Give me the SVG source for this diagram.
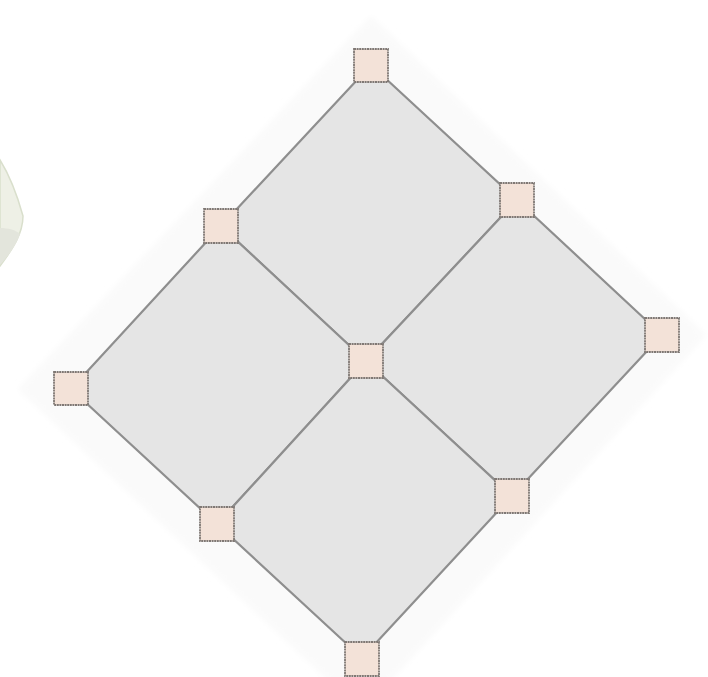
<svg xmlns="http://www.w3.org/2000/svg" width="708" height="677" viewBox="0 0 708 677">
  <defs>
    <style>
      .halo { fill: #fafafa; stroke: none; }
      .tile { fill: #e5e5e5; stroke: #8e8e8e; stroke-width: 2.2; stroke-linejoin: round; }
      .pt { fill: #f3e2d8; stroke: #7f7874; stroke-width: 1.8; stroke-dasharray: 2 0.6; }
      .blob { fill: #eef0e6; stroke: #d9dfcc; stroke-width: 1.5; }
    </style>
    <filter id="soft" x="-10%" y="-10%" width="120%" height="120%">
      <feGaussianBlur stdDeviation="3"/>
    </filter>
  </defs>
  <rect width="708" height="677" fill="#ffffff"/>

  <g id="blob">
    <path class="blob" d="M0,160 C10,176 18,198 23,216 C23,234 12,250 0,266 Z"/>
    <path d="M0,228 C8,228 16,230 20,234 C16,246 8,256 0,265 Z" fill="#e3e5dc"/>
  </g>

  <g id="halo">
    <polygon class="halo" filter="url(#soft)" points="371,16 706,335 362,712 18,389"/>
  </g>

  <g id="connectors">
    <g id="tile-top"><polygon class="tile" points="371,65 517,200 366,361 221,226"/></g>
    <g id="tile-right"><polygon class="tile" points="517,200 662,335 512,496 366,361"/></g>
    <g id="tile-left"><polygon class="tile" points="221,226 366,361 217,524 71,389"/></g>
    <g id="tile-bottom"><polygon class="tile" points="366,361 512,496 362,658 217,524"/></g>
  </g>

  <g id="node-t"><rect class="pt" x="354" y="49" width="34" height="33"/></g>
  <g id="node-rt"><rect class="pt" x="500" y="183" width="34" height="34"/></g>
  <g id="node-r"><rect class="pt" x="645" y="318" width="34" height="34"/></g>
  <g id="node-lt"><rect class="pt" x="204" y="209" width="34" height="34"/></g>
  <g id="node-c"><rect class="pt" x="349" y="344" width="34" height="34"/></g>
  <g id="node-rb"><rect class="pt" x="495" y="479" width="34" height="34"/></g>
  <g id="node-l"><rect class="pt" x="54" y="372" width="34" height="33"/></g>
  <g id="node-lb"><rect class="pt" x="200" y="507" width="34" height="34"/></g>
  <g id="node-b"><rect class="pt" x="345" y="642" width="34" height="34"/></g>
</svg>
